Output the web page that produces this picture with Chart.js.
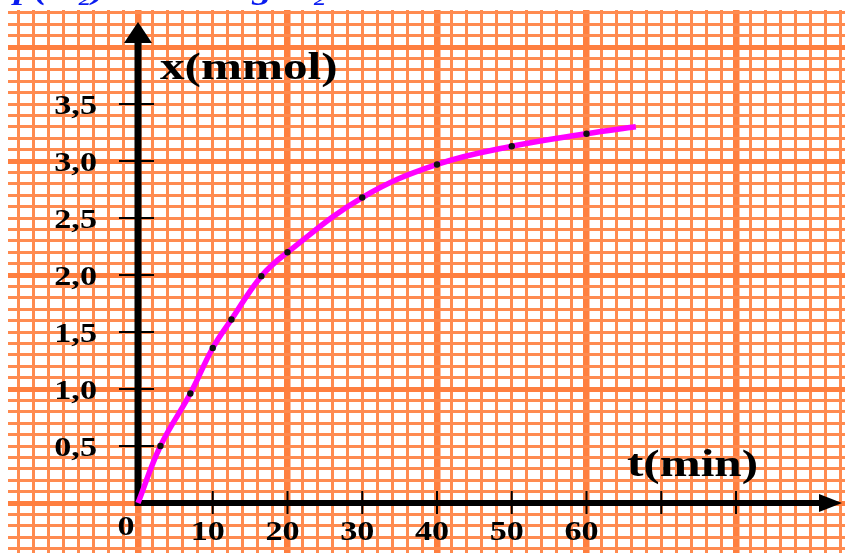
<!DOCTYPE html>
<html><head><meta charset="utf-8">
<script src="https://cdn.jsdelivr.net/npm/chart.js@4"></script>
<style>html,body{margin:0;padding:0;background:#fff;overflow:hidden}#wrap{position:relative;width:845px;height:553px}</style>
</head><body><div id="wrap"><canvas id="c" width="845" height="553"></canvas></div>
<script>
// measured data (t in min, x in mmol); last point is the curve's end, no marker
const times   = [0, 3, 7, 10, 12.5, 16.5, 20, 30, 40, 50, 60, 66.6];
const amounts = [0, 0.5, 0.96, 1.36, 1.61, 1.99, 2.2, 2.68, 2.97, 3.13, 3.24, 3.3];
const markerShown = [false, true, true, true, true, true, true, true, true, true, true, false];

const xTickValues = [10, 20, 30, 40, 50, 60, 70, 80];
const xTickLabels = ['10', '20', '30', '40', '50', '60', '', ''];
const yTickValues = [0.5, 1, 1.5, 2, 2.5, 3, 3.5];
const yTickLabels = ['0,5', '1,0', '1,5', '2,0', '2,5', '3,0', '3,5'];
const originLabel = '0';
const xTitle = 't(min)';
const yTitle = 'x(mmol)';
const headerParts = ['p(H\u2082)', 'Vg H\u2082'];

const STRETCH = 1.33;
const MAJOR = '#FF7F3F', MINOR = '#FF8B50';

function near(v, step) { return Math.abs(v / step - Math.round(v / step)) < 1e-6; }

function stretchedText(ctx, text, x, y, align, font, color, stretch) {
  ctx.save();
  ctx.translate(x, y);
  ctx.scale(stretch || STRETCH, 1);
  ctx.font = font;
  ctx.fillStyle = color || '#000';
  ctx.textAlign = align;
  ctx.textBaseline = 'middle';
  ctx.fillText(text, 0, 0);
  ctx.restore();
}

const axesPlugin = {
  id: 'paperAxes',
  beforeDatasetsDraw(chart) {
    const { ctx, chartArea, scales: { x, y } } = chart;
    const ox = x.getPixelForValue(0), oy = y.getPixelForValue(0);
    ctx.save();
    ctx.strokeStyle = '#000'; ctx.fillStyle = '#000';
    // y axis with arrow
    ctx.lineWidth = 7;
    ctx.beginPath(); ctx.moveTo(ox, oy + 3); ctx.lineTo(ox, chartArea.top + 30); ctx.stroke();
    ctx.beginPath();
    ctx.moveTo(ox, chartArea.top + 12);
    ctx.lineTo(ox - 14, chartArea.top + 33);
    ctx.lineTo(ox + 14, chartArea.top + 33);
    ctx.closePath(); ctx.fill();
    // x axis with arrow
    ctx.lineWidth = 6;
    ctx.beginPath(); ctx.moveTo(ox - 3, oy); ctx.lineTo(chartArea.right - 20, oy); ctx.stroke();
    ctx.beginPath();
    ctx.moveTo(chartArea.right - 3, oy);
    ctx.lineTo(chartArea.right - 26, oy - 9);
    ctx.lineTo(chartArea.right - 26, oy + 9);
    ctx.closePath(); ctx.fill();
    // tick marks
    ctx.lineWidth = 2;
    yTickValues.forEach(v => {
      const py = y.getPixelForValue(v);
      ctx.beginPath(); ctx.moveTo(ox - 19, py); ctx.lineTo(ox + 16, py); ctx.stroke();
    });
    xTickValues.forEach(v => {
      const px = x.getPixelForValue(v);
      ctx.beginPath(); ctx.moveTo(px, oy - 12); ctx.lineTo(px, oy + 11); ctx.stroke();
    });
    ctx.restore();
    // labels
    const tickFont = 'bold 28px "Liberation Serif", "DejaVu Serif", serif';
    yTickValues.forEach((v, i) => {
      stretchedText(ctx, yTickLabels[i], ox - 41, y.getPixelForValue(v) + 3, 'right', tickFont, '#000', 1.22);
    });
    xTickValues.forEach((v, i) => {
      if (xTickLabels[i]) stretchedText(ctx, xTickLabels[i], x.getPixelForValue(v) - 5, oy + 30, 'center', tickFont, '#000', 1.22);
    });
    stretchedText(ctx, originLabel, ox - 12, oy + 25, 'center', tickFont, '#000', 1.22);
    const titleFont = 'bold 37px "Liberation Serif", "DejaVu Serif", serif';
    stretchedText(ctx, yTitle, ox + 22, chartArea.top + 59, 'left', titleFont);
    stretchedText(ctx, xTitle, x.getPixelForValue(65) + 3, oy - 37, 'left', titleFont);
    // clipped header text above the paper
    const hFont = 'bold italic 30px "Liberation Serif", "DejaVu Serif", serif';
    stretchedText(ctx, headerParts[0], 14, -9, 'left', hFont, '#0a1cf0');
    stretchedText(ctx, headerParts[1], 226, -9, 'left', hFont, '#0a1cf0');
  }
};

function gridTicks(step) {
  return function (s) {
    const t = [];
    const k0 = Math.ceil(s.min / step - 1e-9), k1 = Math.floor(s.max / step + 1e-9);
    for (let k = k0; k <= k1; k++) t.push({ value: +(k * step).toFixed(6) });
    s.ticks = t;
  };
}

new Chart(document.getElementById('c'), {
  type: 'line',
  data: {
    datasets: [{
      data: times.map((t, i) => ({ x: t, y: amounts[i] })),
      borderColor: '#FF00FF',
      borderWidth: 5.5,
      tension: 0.4,
      pointRadius: c => markerShown[c.dataIndex] ? 3.2 : 0,
      pointBackgroundColor: '#111',
      pointBorderColor: '#111',
      pointBorderWidth: 0,
      fill: false
    }]
  },
  options: {
    responsive: false,
    animation: false,
    devicePixelRatio: 1,
    layout: { padding: { left: 8, top: 10, right: 0, bottom: 0 } },
    plugins: { legend: { display: false }, tooltip: { enabled: false } },
    scales: {
      x: {
        type: 'linear', min: -17.39, max: 94.58,
        afterBuildTicks: gridTicks(2),
        afterFit: s => { s.height = 0; },
        ticks: { display: false },
        border: { display: false },
        grid: {
          drawTicks: false,
          color: c => near(c.tick.value, 20) ? MAJOR : MINOR,
          lineWidth: c => near(c.tick.value, 20) ? 6.5 : 3
        }
      },
      y: {
        type: 'linear', min: -0.4386, max: 4.325,
        afterBuildTicks: gridTicks(0.1),
        afterFit: s => { s.width = 0; },
        ticks: { display: false },
        border: { display: false },
        grid: {
          drawTicks: false,
          color: c => near(c.tick.value, 1) ? MAJOR : MINOR,
          lineWidth: c => near(c.tick.value, 1) ? 5 : 3
        }
      }
    }
  },
  plugins: [axesPlugin]
});
</script>
</body></html>
